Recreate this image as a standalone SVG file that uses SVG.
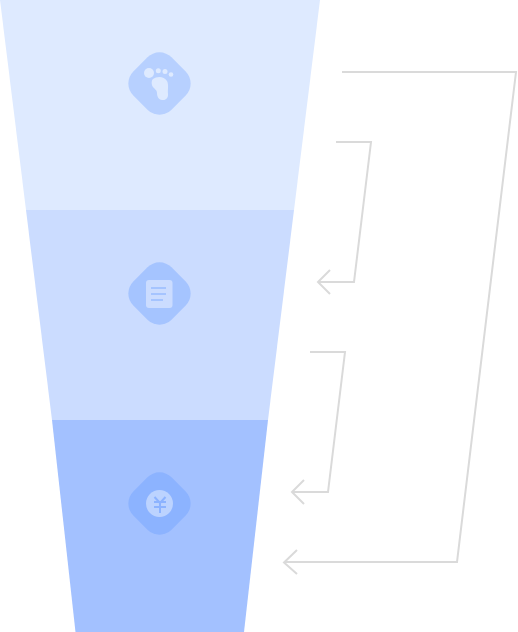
<svg xmlns="http://www.w3.org/2000/svg" width="518" height="632" viewBox="0 0 518 632">
<defs>
<style>
.c{fill:none;stroke:#dadada;stroke-width:2}
.b1{fill:#b7d0ff}.b2{fill:#a5c4ff}.b3{fill:#8cb3ff}
.i1{fill:#deeaff}.i2{fill:#cbdcff}.i3{fill:#bcd3ff}
.g2{fill:#a5c4ff}
.g3{fill:none;stroke:#8cb3ff;stroke-width:2}
</style>
<rect id="d" x="132.500" y="56.500" width="54" height="54" rx="17" transform="rotate(45 159.500 83.500)"/>
</defs>
<rect width="518" height="632" fill="#fff"/>
<g id="stage-1"><polygon points="0,0 320,0 294,210 26,210" fill="#deeaff"/>
<use href="#d" class="b1"/>
<g class="i1"><circle cx="149" cy="73" r="5"/><circle cx="158.300" cy="70.700" r="2.500"/><circle cx="165" cy="71.500" r="2.500"/><circle cx="171" cy="74.500" r="2.300"/>
<path d="M153 79C157 76 164 76 167 81C169 85 167.500 90 168 94C168.500 98 165.500 100.500 162 100C158.500 99.500 157 96.500 157 93C157 90 154.500 89 153 87C151.500 85 151 81 153 79Z"/></g></g>
<g id="stage-2"><polygon points="26,210 294,210 268,420 52,420" fill="#cbdcff"/>
<use href="#d" y="210" class="b2"/>
<rect x="146" y="280" width="26.500" height="28" rx="3" class="i2"/>
<g class="g2"><rect x="151" y="287" width="15" height="2"/><rect x="151" y="293" width="15" height="2"/><rect x="151" y="299" width="12" height="2"/></g></g>
<g id="stage-3"><polygon points="52,420 268,420 244,632 75.500,632" fill="#a3c1ff"/>
<use href="#d" y="420" class="b3"/>
<circle cx="159.500" cy="503.500" r="13.500" class="i3"/>
<path class="g3" d="M154.500 497L160 503L165.500 497M154 502H166M154 507H166M160 503V513"/></g>
<g id="connectors">
<path class="c" d="M342 72H516L457 562H284"/><path class="c" d="M297 550L284 562.500L297 574"/>
<path class="c" d="M336 142H371L354 282H318"/><path class="c" d="M330 270L318 282L330 294"/>
<path class="c" d="M310 352H345L328 492H292"/><path class="c" d="M304 480L292 492L304 504"/>
</g>
</svg>
